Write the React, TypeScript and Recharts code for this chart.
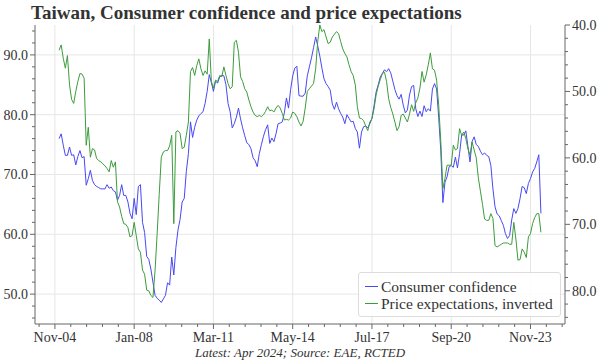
import React from 'react';
import { LineChart, Line, XAxis, YAxis, CartesianGrid } from 'recharts';

const FONT = '"Liberation Serif", "DejaVu Serif", serif';
const TXT = '#333333';
const AXIS = '#666666';
const GRID = '#e6e6e6';
const BLUE = '#4848f4';
const GREEN = '#3c9c3c';

// Monthly observations, Jan 2005 (index 0) .. Apr 2024 (index 231)
const consumerConfidence = [
  76.0, 76.8, 74.9, 73.2, 73.2, 74.6, 73.2, 73.3, 71.6, 73.0, 74.0, 72.8,
  73.0, 68.2, 69.3, 70.7, 69.0, 68.3, 68.0, 67.8, 67.6, 67.6, 67.6, 68.3,
  67.7, 67.9, 67.3, 67.1, 65.7, 66.5, 68.3, 66.5, 66.5, 65.4, 63.5, 62.6,
  66.0, 63.3, 68.0, 68.3, 62.0, 60.3, 56.3, 55.8, 54.2, 52.0, 49.8, 49.3,
  49.0, 48.6, 49.2, 49.8, 51.9, 51.5, 56.2, 53.2, 57.8, 60.7, 62.5, 65.4,
  66.0, 70.5, 73.5, 78.8, 76.2, 77.9, 79.1, 79.8, 80.2, 80.5, 81.9, 83.9,
  86.7, 85.4, 83.9, 85.6, 85.3, 86.3, 86.6, 86.5, 85.0, 81.9, 80.5, 77.8,
  78.5, 79.6, 81.1, 79.3, 77.8, 76.5, 75.3, 75.0, 74.3, 72.8, 72.3, 71.3,
  73.5, 75.0, 76.4, 77.5, 78.3, 75.2, 76.1, 75.5, 76.8, 78.5, 78.6, 78.8,
  80.3, 82.8, 81.1, 84.2, 86.5, 87.8, 88.1, 83.2, 83.1, 83.1, 83.6, 86.5,
  88.0, 89.5, 91.2, 93.0, 91.5, 89.8, 87.8, 86.0, 85.2, 84.7, 84.1, 81.8,
  80.9, 82.1, 81.0, 80.2, 79.6, 78.5, 80.0, 79.4, 78.8, 78.9, 77.7, 77.1,
  74.4, 77.1, 78.0, 78.1, 77.8, 78.5, 79.4, 81.5, 83.8, 85.0, 86.3, 86.9,
  87.5, 87.2, 87.7, 87.0, 85.6, 84.2, 83.2, 82.6, 83.4, 81.6, 80.3, 80.8,
  83.3, 84.7, 84.9, 81.0, 79.7, 80.6, 79.7, 81.5, 80.5, 81.0, 80.6, 84.3,
  85.2, 84.3, 79.5, 74.0, 65.3, 68.7, 69.6, 71.3, 71.5, 71.2, 72.9, 71.1,
  73.5, 76.6, 76.6, 77.3, 74.7, 72.1, 75.5, 76.3, 75.0, 74.7, 73.9, 73.3,
  73.6, 73.2, 73.0, 71.5, 67.6, 64.6, 63.4, 63.1, 62.3, 61.5, 60.1, 59.3,
  59.8, 62.4, 64.3, 63.5, 64.3, 66.0, 68.0, 67.8, 66.8, 68.5, 69.3, 70.4,
  71.0, 72.1, 73.3, 63.5,
];

const priceExpectations = [
  43.8, 43.0, 45.0, 46.5, 44.6, 49.0, 51.2, 51.8, 50.0, 48.5, 47.3, 47.4,
  48.0, 58.1, 55.4, 59.9, 58.6, 58.8, 60.1, 60.4, 60.6, 60.9, 61.2, 61.6,
  62.1, 60.4, 61.4, 60.6, 66.6, 67.4, 68.8, 69.9, 70.0, 70.5, 71.9, 71.7,
  69.7, 71.7, 73.7, 74.2, 76.9, 77.5, 79.9, 80.0, 80.7, 81.0, 77.0, 71.5,
  65.5, 59.9, 59.1, 58.9, 58.9, 58.2, 56.6, 69.9, 56.1, 55.9, 56.3, 58.6,
  58.4, 56.6, 54.6, 47.0, 46.4, 47.6, 46.1, 45.1, 46.6, 47.6, 46.9, 47.4,
  42.1, 48.5, 49.5, 48.3, 48.5, 47.6, 47.8, 46.3, 47.6, 48.8, 49.6, 49.3,
  42.6, 42.3, 44.1, 47.8, 48.5, 49.6, 50.1, 51.3, 52.3, 53.1, 53.6, 53.8,
  53.6, 53.8, 53.5, 53.0, 52.3, 52.9, 52.8, 53.1, 52.5, 52.1, 52.5, 53.3,
  54.3, 54.2, 54.3, 54.0, 53.1, 53.3, 53.8, 54.6, 55.2, 54.5, 52.5, 50.0,
  49.6, 49.2, 48.8, 46.6, 42.5, 40.0, 41.0, 40.7, 41.8, 42.8, 42.6, 41.8,
  41.4, 41.0, 41.3, 42.5, 43.6, 44.3, 44.8, 46.0, 47.0, 47.6, 49.0, 52.3,
  54.0, 54.1, 54.4, 55.2, 55.9, 54.6, 54.1, 52.6, 50.5, 49.2, 48.2, 47.3,
  47.1, 48.5, 51.1, 52.4, 53.4, 54.6, 55.9, 55.3, 53.6, 53.4, 54.0, 54.6,
  53.4, 52.0, 53.0, 51.7, 51.0, 49.5, 47.0, 48.6, 47.5, 46.0, 44.2, 46.6,
  46.8, 48.3, 52.1, 57.5, 64.6, 63.1, 61.1, 61.1, 61.1, 58.1, 58.8, 58.6,
  55.6, 56.6, 56.1, 57.1, 58.6, 59.6, 57.6, 58.8, 60.0, 63.0, 65.0, 67.0,
  69.2, 69.4, 69.4, 68.4, 69.1, 73.2, 73.4, 73.2, 73.0, 72.8, 72.8, 72.8,
  73.0, 73.0, 69.7, 72.2, 75.4, 75.3, 73.7, 74.2, 75.0, 71.9, 71.4, 69.9,
  69.0, 68.4, 68.4, 71.2,
];

// x positions are months since Jan 2005
const xTickLabels = ['Nov-04', 'Jan-08', 'Mar-11', 'May-14', 'Jul-17', 'Sep-20', 'Nov-23'];
const xMajorTicks = [-2, 36, 74, 112, 150, 188, 226];
const xMinorPerMajor = 5;
const xDomain: [number, number] = [-11.55, 242.55];

const leftMajorTicks = [50, 60, 70, 80, 90];
const leftAllTicks = [46, 48, 50, 52, 54, 56, 58, 60, 62, 64, 66, 68, 70, 72, 74, 76, 78, 80, 82, 84, 86, 88, 90, 92, 94];
const rightAllTicks = [40, 42, 44, 46, 48, 50, 52, 54, 56, 58, 60, 62, 64, 66, 68, 70, 72, 74, 76, 78, 80, 82, 84];

const step = (xMajorTicks[1] - xMajorTicks[0]) / xMinorPerMajor;
const xAllTicks: number[] = [];
for (let i = -1; i <= (xMajorTicks.length - 1) * xMinorPerMajor + 2; i++) {
  const v = xMajorTicks[0] + i * step;
  if (v > xDomain[0] && v < xDomain[1]) xAllTicks.push(Math.round(v * 100) / 100);
}

const data = consumerConfidence.map((v, i) => ({ m: i, cc: v, pe: priceExpectations[i] }));

const majorIndex = (v: number) => xMajorTicks.findIndex((t) => Math.abs(t - v) < 0.01);

const XTick = (props: any) => {
  const { x, y, payload } = props;
  const idx = majorIndex(payload.value);
  const major = idx >= 0;
  return (
    <g>
      <line x1={x} x2={x} y1={y} y2={y + (major ? 5 : 3)} stroke={AXIS} strokeWidth={1} />
      {major && (
        <text x={x} y={y + 18} textAnchor="middle" fontSize={14} fill={TXT} fontFamily={FONT}>
          {xTickLabels[idx]}
        </text>
      )}
    </g>
  );
};

const LeftTick = (props: any) => {
  const { x, y, payload } = props;
  const v = payload.value;
  const major = v % 10 === 0;
  return (
    <g>
      <line x1={x - (major ? 5 : 3)} x2={x} y1={y} y2={y} stroke={AXIS} strokeWidth={1} />
      {major && (
        <text x={x - 7} y={y} dy="0.35em" textAnchor="end" fontSize={14} fill={TXT} fontFamily={FONT}>
          {v.toFixed(1)}
        </text>
      )}
    </g>
  );
};

const RightTick = (props: any) => {
  const { x, y, payload } = props;
  const v = payload.value;
  const major = v % 10 === 0;
  return (
    <g>
      <line x1={x} x2={x + (major ? 5 : 3)} y1={y} y2={y} stroke={AXIS} strokeWidth={1} />
      {major && (
        <text x={x + 7} y={y} dy="0.35em" textAnchor="start" fontSize={14} fill={TXT} fontFamily={FONT}>
          {v.toFixed(1)}
        </text>
      )}
    </g>
  );
};

export default function App() {
  return (
    <div style={{ position: 'absolute', left: 0, top: 0, width: 600, height: 364, background: '#fff', fontFamily: FONT }}>
      <div style={{ position: 'absolute', left: 31, top: 2, fontSize: 19, fontWeight: 'bold', color: TXT, whiteSpace: 'nowrap' }}>
        Taiwan, Consumer confidence and price expectations
      </div>
      <LineChart width={600} height={364} data={data} margin={{ top: 25, right: 0, left: 0, bottom: 0 }}>
        <CartesianGrid
          yAxisId="left"
          stroke={GRID}
          horizontalValues={leftMajorTicks}
          verticalValues={xMajorTicks}
        />
        <XAxis
          dataKey="m"
          type="number"
          domain={xDomain}
          ticks={xAllTicks}
          interval={0}
          height={40}
          tickSize={0}
          tickMargin={0}
          tickLine={false}
          tick={<XTick />}
          axisLine={{ stroke: AXIS }}
        />
        <YAxis
          yAxisId="left"
          orientation="left"
          type="number"
          domain={[45, 95]}
          ticks={leftAllTicks}
          interval={0}
          width={35}
          tickSize={0}
          tickMargin={0}
          tickLine={false}
          tick={<LeftTick />}
          axisLine={{ stroke: AXIS }}
        />
        <YAxis
          yAxisId="right"
          orientation="right"
          type="number"
          domain={[40, 85]}
          reversed
          ticks={rightAllTicks}
          interval={0}
          width={35}
          tickSize={0}
          tickMargin={0}
          tickLine={false}
          tick={<RightTick />}
          axisLine={{ stroke: AXIS }}
        />
        <Line yAxisId="left" type="linear" dataKey="cc" stroke={BLUE} strokeWidth={1} dot={false} isAnimationActive={false} />
        <Line yAxisId="right" type="linear" dataKey="pe" stroke={GREEN} strokeWidth={1} dot={false} isAnimationActive={false} />
      </LineChart>
      <div
        style={{
          position: 'absolute', left: 358, top: 272, width: 203, height: 45, boxSizing: 'border-box',
          border: '1px solid #dddddd', borderRadius: 3, background: 'rgba(255,255,255,0.85)',
          fontSize: 15.5, color: TXT, lineHeight: '17px', paddingTop: 5,
        }}
      >
        <div style={{ display: 'flex', alignItems: 'center', whiteSpace: 'nowrap' }}>
          <span style={{ display: 'inline-block', width: 13, height: 1, background: BLUE, marginLeft: 6, marginRight: 3 }} />
          Consumer confidence
        </div>
        <div style={{ display: 'flex', alignItems: 'center', whiteSpace: 'nowrap' }}>
          <span style={{ display: 'inline-block', width: 13, height: 1, background: GREEN, marginLeft: 6, marginRight: 3 }} />
          Price expectations, inverted
        </div>
      </div>
      <div style={{ position: 'absolute', left: 0, width: 600, top: 345, textAlign: 'center', fontSize: 13, fontStyle: 'italic', color: TXT }}>
        Latest: Apr 2024; Source: EAE, RCTED
      </div>
    </div>
  );
}
